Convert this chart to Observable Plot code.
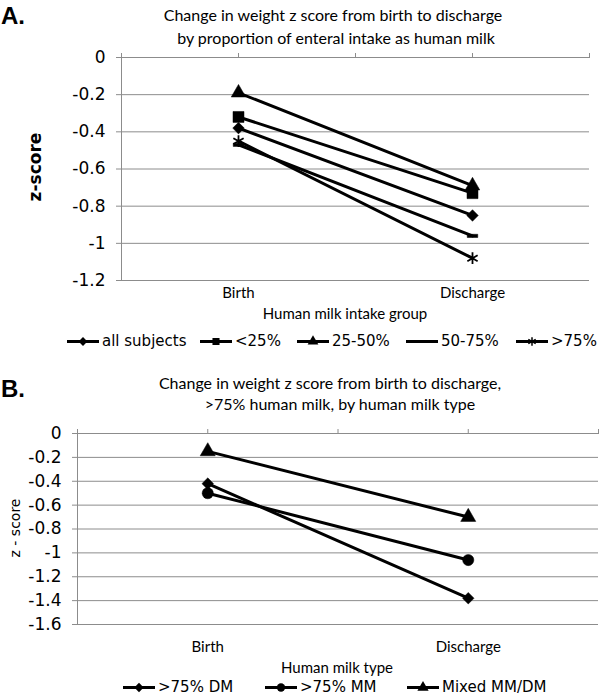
<!DOCTYPE html>
<html><head><meta charset="utf-8">
<script src="https://cdn.jsdelivr.net/npm/d3@7"></script>
<script src="https://cdn.jsdelivr.net/npm/@observablehq/plot@0.6"></script>
<style>
body{margin:0;background:#fff;}
#wrap{position:relative;width:600px;height:696px;overflow:hidden;background:#fff;}
.abs{position:absolute;white-space:nowrap;color:#000;line-height:1;}
.c{transform:translate(-50%,-50%);}
.panel{font-family:"Liberation Sans",Arial,sans-serif;font-weight:bold;font-size:24px;}
.title{font-family:Lato,sans-serif;font-size:16px;}
.xtitle{font-family:Lato,sans-serif;font-size:15px;}
.leg{font-family:"DejaVu Sans",sans-serif;font-size:15px;display:flex;align-items:center;transform:translateY(-50%);}
.leg svg{margin-right:3px;}
.svgpanel{position:absolute;left:0;}
</style>
</head><body>
<div id="wrap"></div>
<script>
// ---------- data ----------
const timepoints = ["Birth", "Discharge"];

const groupsA = ["all subjects", "<25%", "25-50%", "50-75%", ">75%"];
const birthA = [-0.38, -0.32, -0.19, -0.47, -0.45];
const dischargeA = [-0.85, -0.73, -0.69, -0.96, -1.08];
const yTicksA = [0, -0.2, -0.4, -0.6, -0.8, -1, -1.2];
const yLabelsA = ["0", "-0.2", "-0.4", "-0.6", "-0.8", "-1", "-1.2"];

const groupsB = [">75% DM", ">75% MM", "Mixed MM/DM"];
const birthB = [-0.42, -0.50, -0.15];
const dischargeB = [-1.38, -1.06, -0.70];
const yTicksB = [0, -0.2, -0.4, -0.6, -0.8, -1, -1.2, -1.4, -1.6];
const yLabelsB = ["0", "-0.2", "-0.4", "-0.6", "-0.8", "-1", "-1.2", "-1.4", "-1.6"];

// ---------- symbols ----------
const dash = {draw(ctx, size) { const s = Math.sqrt(size); ctx.rect(-s * 0.55, -s * 0.17, s * 1.1, s * 0.34); }};
const symA = [d3.symbolDiamond2, d3.symbolSquare, d3.symbolTriangle, dash, d3.symbolAsterisk];
const rA = [5.2, 6.2, 5.4, 5.4, 5.6];
const symB = [d3.symbolDiamond2, d3.symbolCircle, d3.symbolTriangle];
const rB = [5.2, 5.6, 5.6];

const grid = "#8c8c8c";
const wrap = document.getElementById("wrap");

function buildData(groups, birth, discharge) {
  return groups.flatMap((g, i) => [
    {group: g, time: timepoints[0], z: birth[i]},
    {group: g, time: timepoints[1], z: discharge[i]}
  ]);
}
const xPos = d => timepoints.indexOf(d.time) + 1;

function panel({data, groups, syms, radii, yTicks, yLabels, top, height, mt, mb, ml, mr, catPad}) {
  const dots = groups.map((g, i) => {
    const isStroke = syms[i] === d3.symbolAsterisk;
    return Plot.dot(data.filter(d => d.group === g), {
      x: xPos, y: "z", symbol: syms[i], r: radii[i],
      fill: isStroke ? "none" : "black", stroke: "black", strokeWidth: isStroke ? 1.8 : 0.5
    });
  });
  const chart = Plot.plot({
    width: 600, height,
    marginTop: mt, marginBottom: mb, marginLeft: ml, marginRight: mr,
    style: {fontFamily: "DejaVu Sans", fontSize: "17px", color: "black", background: "transparent"},
    x: {type: "linear", domain: [0.5, 2.5], label: null},
    y: {type: "linear", domain: [yTicks[yTicks.length - 1], 0], label: null},
    marks: [
      Plot.ruleY(yTicks, {stroke: grid, strokeWidth: 1}),
      Plot.ruleX([0.5], {stroke: grid, strokeWidth: 1}),
      Plot.axisX({anchor: "top", label: null, ticks: [0.5, 1, 1.5, 2, 2.5], tickSize: 5, tickFormat: () => "", stroke: grid}),
      Plot.axisX({anchor: "bottom", label: null, ticks: [1, 2], tickSize: 0, tickPadding: catPad,
        tickFormat: d => timepoints[d - 1], fontFamily: "Lato", fontSize: 15, fill: "black"}),
      Plot.axisY({anchor: "left", label: null, ticks: yTicks, tickSize: 5, tickPadding: 11, stroke: grid,
        tickFormat: d => yLabels[yTicks.indexOf(d)], fontFamily: "DejaVu Sans", fontSize: 17, fill: "black"}),
      Plot.line(data, {x: xPos, y: "z", z: "group", stroke: "black", strokeWidth: 3}),
      ...dots
    ]
  });
  chart.classList.add("svgpanel");
  chart.style.top = top + "px";
  wrap.appendChild(chart);
}

panel({data: buildData(groupsA, birthA, dischargeA), groups: groupsA, syms: symA, radii: rA,
  yTicks: yTicksA, yLabels: yLabelsA, top: 0, height: 320, mt: 57, mb: 40, ml: 121, mr: 11, catPad: 7});
panel({data: buildData(groupsB, birthB, dischargeB), groups: groupsB, syms: symB, radii: rB,
  yTicks: yTicksB, yLabels: yLabelsB, top: 360, height: 320, mt: 73, mb: 56, ml: 77, mr: 2, catPad: 17});

// ---------- texts ----------
function txt(cls, text, x, y, extra) {
  const el = document.createElement("div");
  el.className = "abs " + cls;
  el.textContent = text;
  el.style.left = x + "px"; el.style.top = y + "px";
  if (extra) Object.assign(el.style, extra);
  wrap.appendChild(el);
  return el;
}
txt("panel", "A.", 1, 4);
txt("title c", "Change in weight z score from birth to discharge", 333, 15);
txt("title c", "by proportion of enteral intake as human milk", 336, 38);
txt("c", "z-score", 35, 167, {fontFamily: "DejaVu Sans", fontWeight: "bold", fontSize: "17px", transform: "translate(-50%,-50%) rotate(-90deg)"});
txt("xtitle c", "Human milk intake group", 345, 313);

txt("panel", "B.", 1, 377);
txt("title c", "Change in weight z score from birth to discharge,", 330, 383);
txt("title c", ">75% human milk, by human milk type", 340, 404);
txt("c", "z - score", 15, 528, {fontFamily: "DejaVu Sans", fontSize: "14px", transform: "translate(-50%,-50%) rotate(-90deg)"});
txt("xtitle c", "Human milk type", 337, 667);

// ---------- legends ----------
function legendItem(label, sym, x, y, size) {
  const el = document.createElement("div");
  el.className = "abs leg";
  el.style.left = x + "px"; el.style.top = y + "px";
  const ns = "http://www.w3.org/2000/svg";
  const s = document.createElementNS(ns, "svg");
  s.setAttribute("width", 32); s.setAttribute("height", 14);
  const ln = document.createElementNS(ns, "line");
  ln.setAttribute("x1", 0); ln.setAttribute("x2", 32); ln.setAttribute("y1", 7); ln.setAttribute("y2", 7);
  ln.setAttribute("stroke", "black"); ln.setAttribute("stroke-width", 3);
  s.appendChild(ln);
  if (sym) {
    const p = document.createElementNS(ns, "path");
    p.setAttribute("d", d3.symbol(sym, size)());
    p.setAttribute("transform", "translate(16,7)");
    if (sym === d3.symbolAsterisk) { p.setAttribute("fill", "none"); p.setAttribute("stroke", "black"); p.setAttribute("stroke-width", 1.5); }
    else p.setAttribute("fill", "black");
    s.appendChild(p);
  }
  el.appendChild(s);
  const t = document.createElement("span");
  t.textContent = label;
  el.appendChild(t);
  wrap.appendChild(el);
}
const legXA = [67, 200, 297, 406, 516];
groupsA.forEach((g, i) => legendItem(g, symA[i] === dash ? null : symA[i], legXA[i], 341, 50));
const legXB = [123, 265, 407];
groupsB.forEach((g, i) => legendItem(g, symB[i], legXB[i], 687, 55));
</script>
</body></html>
